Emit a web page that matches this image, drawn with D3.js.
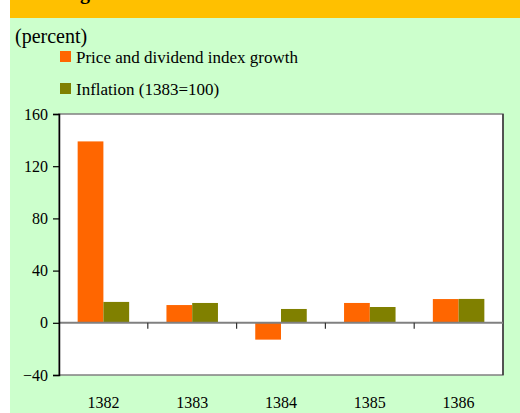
<!DOCTYPE html>
<html>
<head>
<meta charset="utf-8">
<script src="https://cdn.jsdelivr.net/npm/d3@7"></script>
<style>
  body { margin: 0; padding: 0; background: #fff; }
  svg { display: block; }
</style>
</head>
<body>
<div id="chart"></div>
<script>
// chart data
const years = ["1382", "1383", "1384", "1385", "1386"];
const seriesNames = ["Price and dividend index growth", "Inflation (1383=100)"];
const priceGrowth = [139, 13.6, -12.9, 15.2, 18.2];
const inflation = [16, 15.2, 10.6, 12.1, 18.3];
const yTicks = [-40, 0, 40, 80, 120, 160];
const colors = ["#FF6600", "#808000"];

const serif = "Liberation Serif, DejaVu Serif, serif";
const width = 520, height = 413;
const plot = { left: 59, right: 503, top: 114, bottom: 375 };

const svg = d3.select("#chart").append("svg")
    .attr("width", width)
    .attr("height", height)
    .attr("font-family", serif);

// backgrounds
svg.append("rect").attr("x", 10).attr("y", 0).attr("width", width - 10).attr("height", height)
    .attr("fill", "#CCFFCC");
svg.append("rect").attr("x", 10).attr("y", 0).attr("width", width - 10).attr("height", 18)
    .attr("fill", "#FFC000");

// title is mostly cut off at the top edge, only a descender shows
svg.append("text")
    .attr("x", 80)
    .attr("y", -1)
    .attr("font-size", 20)
    .attr("font-weight", "bold")
    .text("g");

svg.append("text")
    .attr("x", 15)
    .attr("y", 43)
    .attr("font-size", 20)
    .text("(percent)");

// legend
const legend = svg.append("g");
seriesNames.forEach((name, i) => {
    const ly = 51 + i * 32;
    legend.append("rect").attr("x", 60).attr("y", ly).attr("width", 11).attr("height", 11)
        .attr("fill", colors[i]);
    legend.append("text").attr("x", 76).attr("y", ly + 12)
        .attr("font-size", 17)
        .text(name);
});

// plot area
svg.append("rect")
    .attr("x", plot.left).attr("y", plot.top)
    .attr("width", plot.right - plot.left).attr("height", plot.bottom - plot.top)
    .attr("fill", "#fff")
    .attr("stroke", "#808080")
    .attr("stroke-width", 1.5);
svg.append("line")
    .attr("x1", plot.right).attr("x2", plot.right)
    .attr("y1", plot.top).attr("y2", plot.bottom)
    .attr("stroke", "#222").attr("stroke-width", 1.2);

const y = d3.scaleLinear().domain([-40, 160]).range([plot.bottom, plot.top]);
const x0 = d3.scaleBand().domain(years).range([plot.left, plot.right]).paddingInner(0).paddingOuter(0);
const bw = x0.bandwidth();
const x1 = d3.scaleBand().domain([0, 1]).range([bw * 0.21, bw * 0.79]);

const rows = years.map((yr, i) => ({ year: yr, values: [priceGrowth[i], inflation[i]] }));

svg.append("g")
    .selectAll("g")
    .data(rows)
    .join("g")
    .attr("transform", d => `translate(${x0(d.year)},0)`)
    .selectAll("rect")
    .data(d => d.values.map((v, k) => ({ v, k })))
    .join("rect")
    .attr("x", d => x1(d.k))
    .attr("width", x1.bandwidth())
    .attr("y", d => y(Math.max(0, d.v)))
    .attr("height", d => Math.abs(y(d.v) - y(0)))
    .attr("fill", d => colors[d.k]);

// zero line with category tick marks
svg.append("line")
    .attr("x1", plot.left).attr("x2", plot.right)
    .attr("y1", y(0)).attr("y2", y(0))
    .attr("stroke", "#808080").attr("stroke-width", 2);
svg.append("g")
    .selectAll("line")
    .data(years.slice(1))
    .join("line")
    .attr("x1", d => x0(d)).attr("x2", d => x0(d))
    .attr("y1", y(0)).attr("y2", y(0) + 6)
    .attr("stroke", "#333").attr("stroke-width", 1.2);

// category labels
svg.append("g")
    .selectAll("text")
    .data(years)
    .join("text")
    .attr("x", d => x0(d) + bw / 2)
    .attr("y", 408)
    .attr("text-anchor", "middle")
    .attr("font-size", 16)
    .text(d => d);

// y axis
const yAxis = d3.axisLeft(y).tickValues(yTicks).tickSize(6).tickPadding(5);
const yg = svg.append("g")
    .attr("transform", `translate(${plot.left},0)`)
    .call(yAxis)
    .attr("font-family", serif)
    .attr("font-size", 16);
yg.select(".domain").attr("stroke", "#000").attr("stroke-width", 1.5);
yg.selectAll(".tick line").attr("stroke", "#000").attr("stroke-width", 1.2);
yg.selectAll(".tick text").attr("fill", "#000");
</script>
</body>
</html>
